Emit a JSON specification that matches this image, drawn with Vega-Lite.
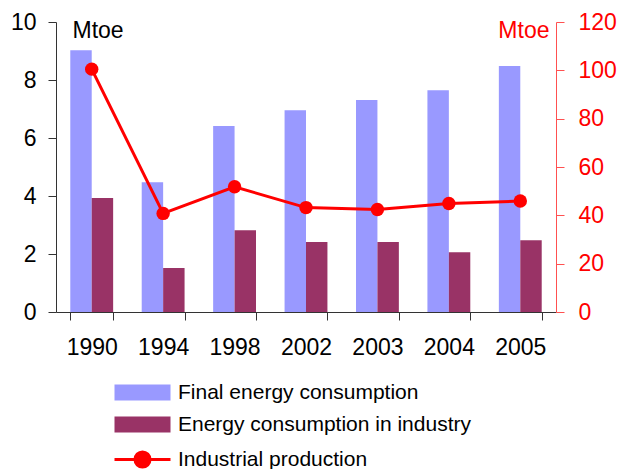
{
  "$schema": "https://vega.github.io/schema/vega-lite/v6.json",
  "width": 500,
  "height": 290,
  "autosize": {"type": "none"},
  "padding": {"left": 56, "top": 22, "right": 61, "bottom": 157},
  "background": "white",
  "config": {
    "font": "Liberation Sans",
    "view": {"stroke": null},
    "axis": {"grid": false, "labelFont": "Liberation Sans", "titleFont": "Liberation Sans", "titleFontWeight": "normal"}
  },
  "data": {
    "values": [
      {"year": "1990", "series": "Final energy consumption", "value": 9.03},
      {"year": "1994", "series": "Final energy consumption", "value": 4.47},
      {"year": "1998", "series": "Final energy consumption", "value": 6.41},
      {"year": "2002", "series": "Final energy consumption", "value": 6.96},
      {"year": "2003", "series": "Final energy consumption", "value": 7.31},
      {"year": "2004", "series": "Final energy consumption", "value": 7.65},
      {"year": "2005", "series": "Final energy consumption", "value": 8.48},
      {"year": "1990", "series": "Energy consumption in industry", "value": 3.93},
      {"year": "1994", "series": "Energy consumption in industry", "value": 1.52},
      {"year": "1998", "series": "Energy consumption in industry", "value": 2.82},
      {"year": "2002", "series": "Energy consumption in industry", "value": 2.41},
      {"year": "2003", "series": "Energy consumption in industry", "value": 2.41},
      {"year": "2004", "series": "Energy consumption in industry", "value": 2.06},
      {"year": "2005", "series": "Energy consumption in industry", "value": 2.47},
      {"year": "1990", "series": "Industrial production", "value": 100.5},
      {"year": "1994", "series": "Industrial production", "value": 40.8},
      {"year": "1998", "series": "Industrial production", "value": 51.8},
      {"year": "2002", "series": "Industrial production", "value": 43.2},
      {"year": "2003", "series": "Industrial production", "value": 42.4},
      {"year": "2004", "series": "Industrial production", "value": 44.9},
      {"year": "2005", "series": "Industrial production", "value": 45.9}
    ]
  },
  "layer": [
    {
      "transform": [{"filter": "datum.series !== 'Industrial production'"}],
      "mark": {"type": "bar"},
      "encoding": {
        "x": {
          "field": "year", "type": "nominal",
          "scale": {"paddingInner": 0.4, "paddingOuter": 0.2},
          "axis": {
            "title": null, "labelAngle": 0, "labelFontSize": 23, "labelColor": "black",
            "labelPadding": 16, "tickBand": "extent", "tickSize": 8,
            "domainColor": "#333333", "tickColor": "#333333"
          }
        },
        "xOffset": {"field": "series", "type": "nominal", "sort": ["Final energy consumption", "Energy consumption in industry"]},
        "y": {
          "field": "value", "type": "quantitative",
          "scale": {"domain": [0, 10], "nice": false},
          "axis": {
            "values": [0, 2, 4, 6, 8, 10], "labelFontSize": 23, "labelColor": "black",
            "labelPadding": 12, "tickSize": 8, "domainColor": "#333333", "tickColor": "#333333",
            "title": "Mtoe", "titleAngle": 0, "titleX": 16, "titleY": 15, "titleAlign": "left",
            "titleBaseline": "alphabetic", "titleFontSize": 23, "titleColor": "black"
          }
        },
        "color": {
          "field": "series", "type": "nominal",
          "scale": {
            "domain": ["Final energy consumption", "Energy consumption in industry", "Industrial production"],
            "range": ["#9999FF", "#993366", "#FF0000"]
          },
          "legend": {
            "orient": "none", "legendX": 76, "legendY": 360, "title": null,
            "labelFontSize": 21, "labelColor": "black", "labelOffset": 25, "labelLimit": 500,
            "symbolSize": 1024, "rowPadding": 10, "symbolLimit": 0,
            "encode": {
              "symbols": {
                "update": {
                  "shape": {"signal": "datum.value === 'Industrial production' ? 'M-1.75,0H1.75M0.47,0A0.47,0.47,0,1,1,-0.47,0A0.47,0.47,0,1,1,0.47,0Z' : 'M-1.75,-0.5H1.75V0.5H-1.75Z'"},
                  "fill": {"scale": "color", "field": "value"},
                  "stroke": {"scale": "color", "field": "value"},
                  "strokeWidth": {"signal": "datum.value === 'Industrial production' ? 3 : 0"},
                  "opacity": {"value": 1},
                  "fillOpacity": {"value": 1}
                }
              }
            }
          }
        }
      }
    },
    {
      "transform": [{"filter": "datum.series === 'Industrial production'"}],
      "mark": {"type": "line", "strokeWidth": 3, "point": {"filled": true, "size": 180, "opacity": 1}},
      "encoding": {
        "x": {"field": "year", "type": "nominal"},
        "y": {
          "field": "value", "type": "quantitative",
          "scale": {"domain": [0, 120], "nice": false},
          "axis": {
            "orient": "right", "values": [0, 20, 40, 60, 80, 100, 120],
            "labelFontSize": 23, "labelColor": "#FF0000", "labelPadding": 14, "tickSize": 8,
            "domainColor": "#FF5050", "tickColor": "#FF5050",
            "title": "Mtoe", "titleAngle": 0, "titleX": -7, "titleY": 15, "titleAlign": "right",
            "titleBaseline": "alphabetic", "titleFontSize": 23, "titleColor": "#FF0000"
          }
        },
        "color": {"field": "series", "type": "nominal"}
      }
    }
  ],
  "resolve": {"scale": {"y": "independent"}}
}
